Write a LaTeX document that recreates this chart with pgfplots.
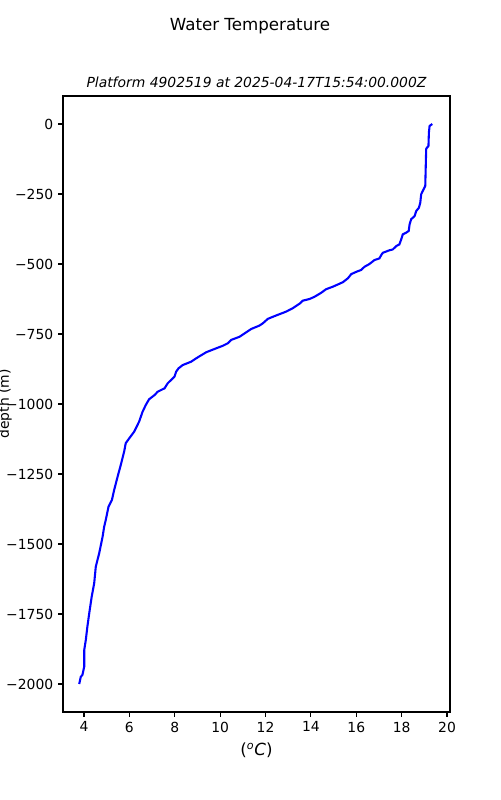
\documentclass[border=0pt]{standalone}
\usepackage{fontspec}
\setmainfont{DejaVu Sans}
\usepackage{pgfplots}
\pgfplotsset{compat=1.18}

\pgfplotsset{
  minusy/.style={yticklabel={\ifdim\tick pt<0pt −\pgfmathparse{-\tick}\pgfmathprintnumber{\pgfmathresult}\else\pgfmathprintnumber{\tick}\fi}}
}

\begin{document}
\begin{tikzpicture}
\useasboundingbox (-45.36pt,-63.36pt) rectangle (314.64pt,512.64pt);
\begin{axis}[
  scale only axis,
  width=278.64pt,
  height=443.52pt,
  xmin=3.075, xmax=20.13,
  ymin=-2100, ymax=100,
  xtick={4,6,...,20},
  ytick={-2000,-1750,...,0},
  minusy,
  /pgf/number format/assume math mode=true,
  /pgf/number format/set thousands separator={},
  tick label style={font=\fontsize{10}{12}\selectfont},
  tick align=outside,
  major tick length=3.5pt,
  xtick pos=left, ytick pos=left,
  axis line style={line width=0.8pt},
  tick style={line width=0.8pt, black},
  every axis title shift=0pt,
  title={\fontsize{10}{12}\selectfont\itshape Platform 4902519 at 2025-04-17T15:54:00.000Z},
  title style={at={(axis description cs:0.5,1)}, anchor=base, yshift=5.8pt},
  xlabel={\fontsize{12}{14}\selectfont (\textsuperscript{\itshape o}\textit{C})},
  xlabel style={at={(axis description cs:0.5,-0.062)}, anchor=center},
  ylabel={\fontsize{10}{12}\selectfont depth (m)},
  ylabel style={at={(axis description cs:-0.15,0.5)}, anchor=center, rotate=0},
]
\addplot[color={rgb,255:red,0;green,0;blue,255}, line width=1.5pt] coordinates {
(19.35,0) (19.23,-7) (19.20,-31) (19.18,-79) (19.11,-85) (19.08,-90)
(19.04,-221) (18.93,-239) (18.86,-251) (18.82,-281) (18.76,-299) (18.64,-311)
(18.57,-329) (18.42,-340) (18.35,-358) (18.31,-382) (18.20,-388) (18.05,-394)
(17.98,-412) (17.90,-430) (17.76,-436) (17.61,-448) (17.46,-451) (17.17,-460)
(17.10,-468) (17.02,-480) (16.80,-486) (16.58,-500) (16.36,-510) (16.22,-521)
(16.00,-528) (15.78,-536) (15.63,-551) (15.41,-565) (14.97,-581) (14.67,-590)
(14.45,-603) (14.16,-617) (13.94,-625) (13.64,-631) (13.53,-640) (13.42,-646)
(13.20,-658) (12.91,-670) (12.40,-686) (12.10,-696) (11.88,-712) (11.73,-720)
(11.37,-732) (11.15,-744) (10.85,-760) (10.49,-771) (10.34,-783) (10.12,-792)
(9.83,-801) (9.39,-815) (9.02,-833) (8.72,-849) (8.35,-861) (8.16,-873)
(8.06,-885) (7.99,-902) (7.84,-914) (7.69,-926) (7.55,-944) (7.25,-956)
(7.11,-968) (6.92,-980) (6.87,-983) (6.72,-1004) (6.58,-1028) (6.43,-1063)
(6.21,-1099) (5.99,-1123) (5.84,-1140) (5.77,-1170) (5.62,-1218) (5.48,-1260)
(5.33,-1307) (5.23,-1343) (5.08,-1367) (4.96,-1414) (4.89,-1438) (4.82,-1474)
(4.67,-1533) (4.52,-1581) (4.45,-1640) (4.34,-1688) (4.23,-1748) (4.15,-1795)
(4.08,-1843) (4.01,-1879) (4.01,-1938) (3.93,-1968) (3.86,-1974) (3.79,-2000)
};
\end{axis}
\node[font=\fontsize{12}{14}\selectfont] at (134.64pt,494pt) {Water Temperature};
\end{tikzpicture}
\end{document}
